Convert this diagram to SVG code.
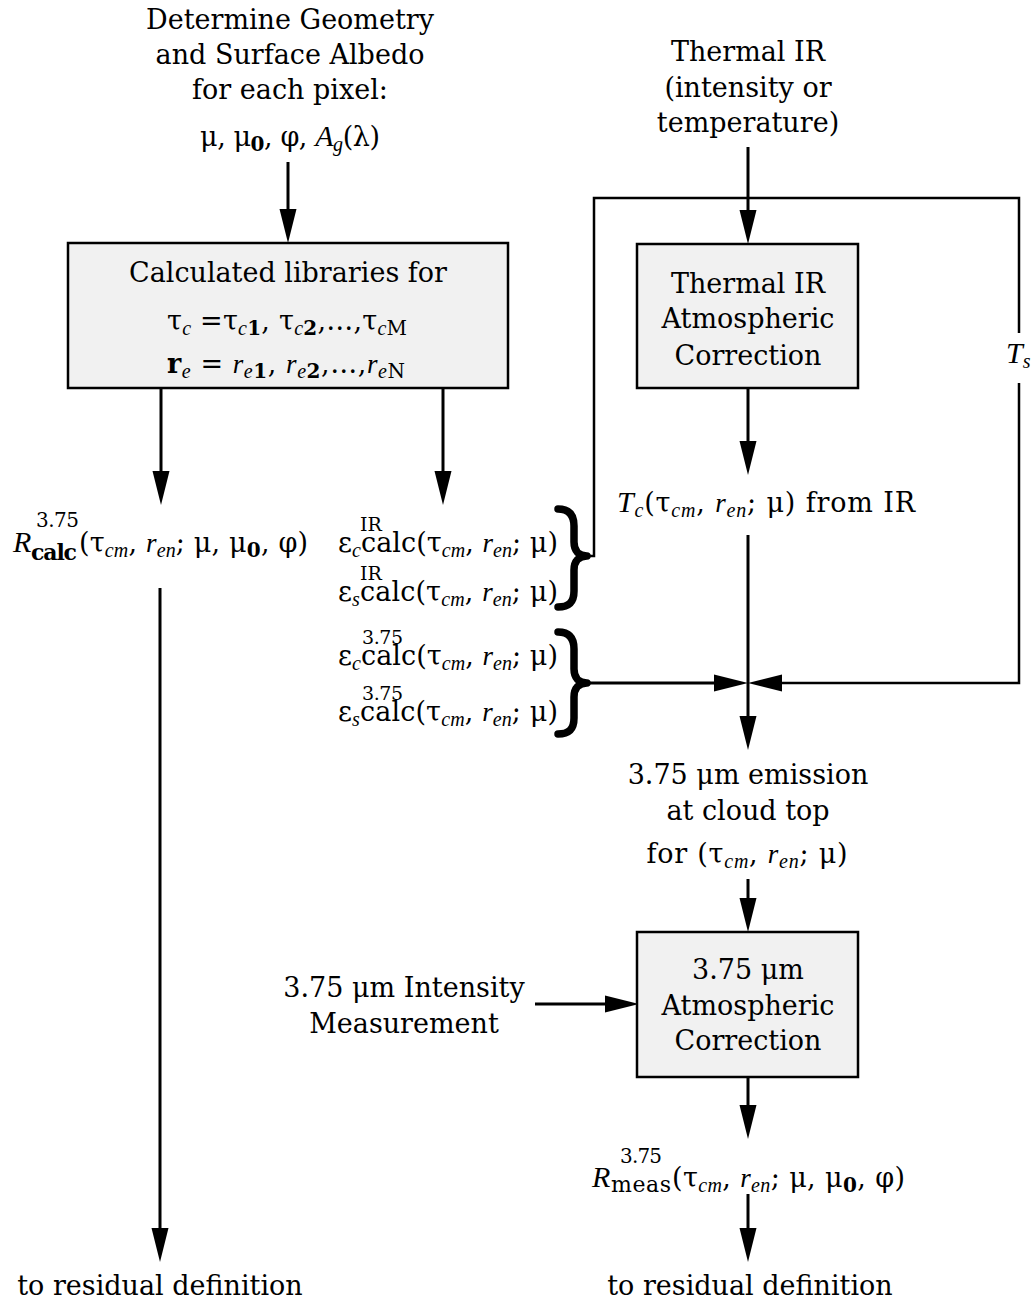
<svg xmlns="http://www.w3.org/2000/svg" width="1034" height="1303" viewBox="0 0 1034 1303">
<defs>
<marker id="ah" markerUnits="userSpaceOnUse" markerWidth="34" markerHeight="18" refX="24" refY="9" orient="auto"><path d="M0,0.5 L34,9 L0,17.5 z" fill="#000"/></marker>
<style>
.t{font-family:"DejaVu Serif",serif;font-size:27px;fill:#000}
.c{text-anchor:middle}
.m{font-family:"Liberation Serif",serif;font-style:italic}
.R{font-family:"Liberation Serif",serif;font-style:italic;font-size:30px}
.s{font-size:20px}
.sp{font-size:19px}
.sm{font-size:22px}
.b{font-weight:bold}
.box{fill:#f1f1f1;stroke:#000;stroke-width:2.5}
.ln{fill:none;stroke:#000;stroke-width:3}
.lp{fill:none;stroke:#000;stroke-width:2.5}
.br{fill:none;stroke:#000;stroke-width:7.5;stroke-linecap:round;stroke-linejoin:round}
</style>
</defs>
<rect width="1034" height="1303" fill="#fff"/>

<g id="connectors">
<path class="ln" d="M288,162 V233" marker-end="url(#ah)"/>
<path class="ln" d="M161,389 V495" marker-end="url(#ah)"/>
<path class="ln" d="M443,389 V495" marker-end="url(#ah)"/>
<path class="ln" d="M160,588 V1252" marker-end="url(#ah)"/>
<path class="ln" d="M748,147 V234" marker-end="url(#ah)"/>
<path class="ln" d="M748,388 V465" marker-end="url(#ah)"/>
<path class="ln" d="M748,535 V740" marker-end="url(#ah)"/>
<path class="ln" d="M587,683 H738" marker-end="url(#ah)"/>
<path class="lp" d="M587,556 H594 V198 H1019 V333 M1019,383 V683 H758" marker-end="url(#ah)"/>
<path class="ln" d="M748,879 V922" marker-end="url(#ah)"/>
<path class="ln" d="M535,1004 H629" marker-end="url(#ah)"/>
<path class="ln" d="M748,1077 V1129" marker-end="url(#ah)"/>
<path class="ln" d="M748,1194 V1252" marker-end="url(#ah)"/>
</g>

<g id="n-geometry">
<text class="t c" x="290" y="29">Determine Geometry</text>
<text class="t c" x="290" y="64">and Surface Albedo</text>
<text class="t c" x="290" y="99">for each pixel:</text>
<text class="t c" x="290" y="146" textLength="180">μ, μ<tspan class="s b" dy="5">0</tspan><tspan dy="-5">, φ, </tspan><tspan class="R">A</tspan><tspan class="m s" dy="5">g</tspan><tspan dy="-5">(λ)</tspan></text>
</g>

<g id="n-libraries">
<rect class="box" x="68" y="243" width="440" height="145"/>
<text class="t c" x="288" y="282">Calculated libraries for</text>
<text class="t c" x="287" y="330" textLength="240">τ<tspan class="m s" dy="5">c</tspan><tspan dy="-5"> =τ</tspan><tspan class="m s" dy="5">c</tspan><tspan class="s b">1</tspan><tspan dy="-5">, τ</tspan><tspan class="m s" dy="5">c</tspan><tspan class="s b">2</tspan><tspan dy="-5">,…,τ</tspan><tspan class="m s" dy="5">c</tspan><tspan class="s">M</tspan></text>
<text class="t c" x="286" y="373" textLength="238"><tspan class="b">r</tspan><tspan class="m s" dy="5">e</tspan><tspan dy="-5"> = </tspan><tspan class="m">r</tspan><tspan class="m s" dy="5">e</tspan><tspan class="s b">1</tspan><tspan dy="-5">, </tspan><tspan class="m">r</tspan><tspan class="m s" dy="5">e</tspan><tspan class="s b">2</tspan><tspan dy="-5">,…,</tspan><tspan class="m">r</tspan><tspan class="m s" dy="5">e</tspan><tspan class="s">N</tspan></text>
</g>

<g id="n-thermal-input">
<text class="t c" x="748" y="61">Thermal IR</text>
<text class="t c" x="748" y="97">(intensity or</text>
<text class="t c" x="748" y="132">temperature)</text>
</g>

<g id="n-thermal-correction">
<rect class="box" x="637" y="244" width="221" height="144"/>
<text class="t c" x="748" y="293">Thermal IR</text>
<text class="t c" x="748" y="328">Atmospheric</text>
<text class="t c" x="748" y="365">Correction</text>
</g>

<g id="n-ts">
<text class="R" x="1006" y="363">T<tspan class="s" dy="5">s</tspan></text>
</g>

<g id="n-rcalc">
<text class="R" x="13" y="552">R</text>
<text class="t s" x="36" y="527" textLength="43">3.75</text>
<text class="t sm b" x="31" y="560" textLength="46">calc</text>
<text class="t" x="79" y="552" textLength="229">(τ<tspan class="m s" dy="5">cm</tspan><tspan dy="-5">, </tspan><tspan class="m">r</tspan><tspan class="m s" dy="5">en</tspan><tspan dy="-5">; μ, μ</tspan><tspan class="s b" dy="5">0</tspan><tspan dy="-5">, φ)</tspan></text>
</g>

<g id="n-emissivities">
<text class="t" x="338" y="552" textLength="220">ε<tspan class="m s" dy="5">c</tspan><tspan dy="-5">calc(τ</tspan><tspan class="m s" dy="5">cm</tspan><tspan dy="-5">, </tspan><tspan class="m">r</tspan><tspan class="m s" dy="5">en</tspan><tspan dy="-5">; μ)</tspan></text>
<text class="t sp" x="360" y="531">IR</text>
<text class="t" x="338" y="601" textLength="220">ε<tspan class="m s" dy="5">s</tspan><tspan dy="-5">calc(τ</tspan><tspan class="m s" dy="5">cm</tspan><tspan dy="-5">, </tspan><tspan class="m">r</tspan><tspan class="m s" dy="5">en</tspan><tspan dy="-5">; μ)</tspan></text>
<text class="t sp" x="360" y="580">IR</text>
<text class="t" x="338" y="665" textLength="220">ε<tspan class="m s" dy="5">c</tspan><tspan dy="-5">calc(τ</tspan><tspan class="m s" dy="5">cm</tspan><tspan dy="-5">, </tspan><tspan class="m">r</tspan><tspan class="m s" dy="5">en</tspan><tspan dy="-5">; μ)</tspan></text>
<text class="t sp" x="362" y="644" textLength="41">3.75</text>
<text class="t" x="338" y="721" textLength="220">ε<tspan class="m s" dy="5">s</tspan><tspan dy="-5">calc(τ</tspan><tspan class="m s" dy="5">cm</tspan><tspan dy="-5">, </tspan><tspan class="m">r</tspan><tspan class="m s" dy="5">en</tspan><tspan dy="-5">; μ)</tspan></text>
<text class="t sp" x="362" y="700" textLength="41">3.75</text>
<path class="br" d="M558,509 C568,509 574,514 574,526 L574,542 C574,551 579,556 587,556 C579,556 574,561 574,570 L574,591 C574,603 568,607 558,607"/>
<path class="br" d="M558,632 C568,632 574,637 574,649 L574,669 C574,678 579,683 587,683 C579,683 574,688 574,697 L574,718 C574,730 568,734 558,734"/>
</g>

<g id="n-tc">
<text class="t" x="617" y="512" textLength="298"><tspan class="R">T</tspan><tspan class="m s" dy="5">c</tspan><tspan dy="-5">(τ</tspan><tspan class="m s" dy="5">cm</tspan><tspan dy="-5">, </tspan><tspan class="m">r</tspan><tspan class="m s" dy="5">en</tspan><tspan dy="-5">; μ) from IR</tspan></text>
</g>

<g id="n-emission">
<text class="t c" x="748" y="784">3.75 μm emission</text>
<text class="t c" x="748" y="820">at cloud top</text>
<text class="t c" x="747" y="863" textLength="201">for (τ<tspan class="m s" dy="5">cm</tspan><tspan dy="-5">, </tspan><tspan class="m">r</tspan><tspan class="m s" dy="5">en</tspan><tspan dy="-5">; μ)</tspan></text>
</g>

<g id="n-intensity">
<text class="t c" x="404" y="997">3.75 μm Intensity</text>
<text class="t c" x="404" y="1033">Measurement</text>
</g>

<g id="n-375-correction">
<rect class="box" x="637" y="932" width="221" height="145"/>
<text class="t c" x="748" y="979">3.75 μm</text>
<text class="t c" x="748" y="1015">Atmospheric</text>
<text class="t c" x="748" y="1050">Correction</text>
</g>

<g id="n-rmeas">
<text class="R" x="592" y="1187">R</text>
<text class="t s" x="620" y="1163" textLength="42">3.75</text>
<text class="t sm" x="611" y="1192" textLength="60">meas</text>
<text class="t" x="672" y="1187" textLength="233">(τ<tspan class="m s" dy="5">cm</tspan><tspan dy="-5">, </tspan><tspan class="m">r</tspan><tspan class="m s" dy="5">en</tspan><tspan dy="-5">; μ, μ</tspan><tspan class="s b" dy="5">0</tspan><tspan dy="-5">, φ)</tspan></text>
</g>

<g id="n-residual-left">
<text class="t c" x="160" y="1295">to residual definition</text>
</g>
<g id="n-residual-right">
<text class="t c" x="750" y="1295">to residual definition</text>
</g>
</svg>
